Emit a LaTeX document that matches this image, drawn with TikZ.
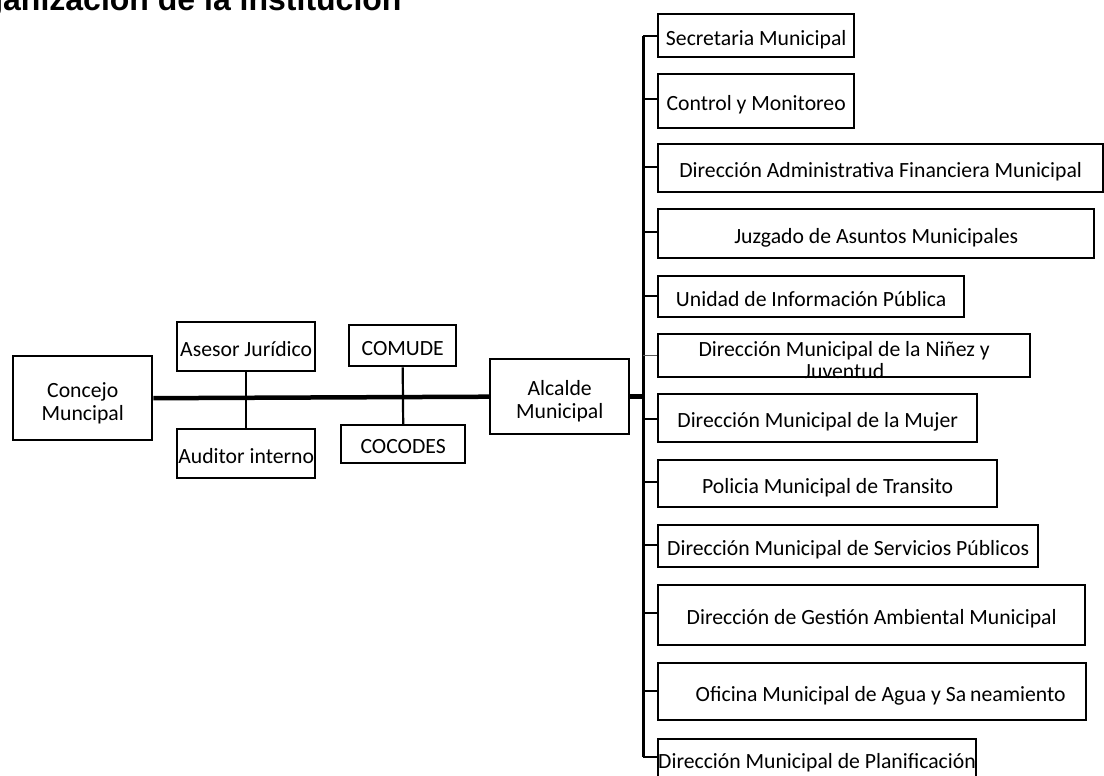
\documentclass[tikz,border=0pt]{standalone}
\usepackage{fontspec}
\setmainfont{Carlito}
\newfontfamily\titlefam{Liberation Sans}
\newcommand{\boxfont}{\fontsize{21.7}{23}\selectfont}
\newcommand{\ttlfont}{\titlefam\bfseries\fontsize{32}{36}\selectfont}
\begin{document}
\begin{tikzpicture}[x=1pt,y=-1pt,
  box/.style={draw, line width=2.4pt, inner sep=0pt, anchor=north west, font=\boxfont, text height=19pt, text depth=0pt},
  mbox/.style={draw, line width=2.4pt, inner sep=0pt, anchor=north west},
  mtext/.style={font=\boxfont, align=center, inner sep=0pt},
  bus/.style={line width=4.5pt},
  tie/.style={line width=2.2pt},
  spine/.style={line width=3pt},
  branch/.style={line width=2.2pt},
  thinbranch/.style={line width=1.2pt, black!65}]
\useasboundingbox (0,0) rectangle (1104,776);
\clip (0,0) rectangle (1104,776);

\node[anchor=base west, font=\ttlfont, inner sep=0pt] (title) at (3,11) {\llap{Org}anización de la institución};

% left part
\node[mbox, minimum width=139pt, minimum height=84pt,
  label={[mtext, yshift=-5pt]center:{Concejo\\Muncipal}}] (concejo) at (12,355) {};
\node[box, minimum width=138pt, minimum height=49pt] (asesor) at (176,321) {Asesor Jurídico};
\node[box, minimum width=138pt, minimum height=49pt] (auditor) at (176,428) {Auditor interno};
\node[box, minimum width=107pt, minimum height=41pt] (comude) at (348,324) {COMUDE};
\node[box, minimum width=124pt, minimum height=38pt] (cocodes) at (340,424) {COCODES};
\node[mbox, minimum width=139pt, minimum height=75pt,
  label={[mtext, yshift=-5pt]center:{Alcalde\\Municipal}}] (alcalde) at (489,358) {};

% right column
\node[box, minimum width=196pt, minimum height=43pt] (sec) at (657,13) {Secretaria Municipal};
\node[box, minimum width=196pt, minimum height=54pt] (ctrl) at (657,73) {Control y Monitoreo};
\node[box, minimum width=445pt, minimum height=48pt] (daf) at (657,143) {Dirección Administrativa Financiera Municipal};
\node[box, minimum width=436pt, minimum height=49pt] (juz) at (657,208) {Juzgado de Asuntos Municipales};
\node[box, minimum width=306pt, minimum height=41pt] (uip) at (657,275) {Unidad de Información Pública};
\node[mbox, minimum width=372pt, minimum height=43pt,
  label={[mtext, yshift=-4pt]center:{Dirección Municipal de la Niñez y\\[-1pt]Juventud}}] (nin) at (657,333) {};
\node[box, minimum width=319pt, minimum height=48pt] (muj) at (657,393) {Dirección Municipal de la Mujer};
\node[box, minimum width=339pt, minimum height=47pt] (pmt) at (657,459) {Policia Municipal de Transito};
\node[box, minimum width=380pt, minimum height=42pt] (dsp) at (657,524) {Dirección Municipal de Servicios Públicos};
\node[box, minimum width=427pt, minimum height=60pt] (dgam) at (657,584) {Dirección de Gestión Ambiental Municipal};
\node[box, minimum width=428pt, minimum height=57pt] (omas) at (657,662) {\hspace*{17pt}Oficina Municipal de Agua y Sa\hspace{4pt}neamiento};
\node[box, minimum width=317pt, minimum height=40pt] (dmp) at (657,738) {Dirección Municipal de Planificación};

% connectors
\coordinate (stop) at (643,36);
\coordinate (sbot) at (643,757);
\draw[bus] (concejo.east) -- (alcalde.west);
\draw[tie] (asesor.south) -- (auditor.north);
\draw[tie] (comude.south) -- (cocodes.north);
\draw[bus] (alcalde.east) -- (alcalde.east -| stop);
\draw[spine] (stop) -- (sbot);
\foreach \n/\yy in {sec/36, ctrl/99, daf/167, juz/232, uip/296, muj/419, pmt/482, dsp/545, dgam/613, omas/691}
  \draw[branch] (643,\yy) -- (\n.west |- 0,\yy);
\draw[thinbranch] (nin.west -| stop) -- (nin.west);
\draw[branch] (sbot) -- (sbot -| dmp.west);
\end{tikzpicture}
\end{document}
